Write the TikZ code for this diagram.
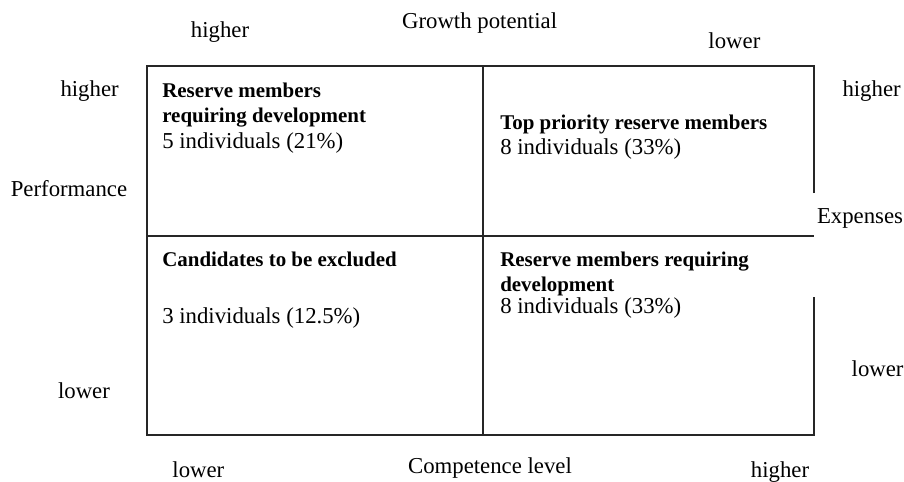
\documentclass[tikz,border=0pt]{standalone}
\usepackage{fontspec}
\setmainfont{Liberation Serif}
\usepackage{tikz}
\usetikzlibrary{positioning}
\tikzset{axlbl/.style = {font = \fontsize{16.2}{19}\selectfont, anchor = base, inner sep = 0}}
\tikzset{qtitle/.style = {font = \fontsize{14.9}{17.8}\selectfont\bfseries, anchor = north west, align = left, inner sep = 0}}
\tikzset{qcount/.style = {font = \fontsize{16.2}{19}\selectfont, anchor = base west, inner sep = 0}}
\tikzset{gridln/.style = {line width = 1pt, black!85}}

\begin{document}
\begin{tikzpicture}
    \useasboundingbox (0, 0) rectangle (22.6, 12.025);

    % matrix frame, right side left open around the Expenses label
    \draw [gridln] (20.35, 7.2) -- (20.35, 10.375) -- (3.675, 10.375)
        -- (3.675, 1.15) -- (20.35, 1.15) -- (20.35, 4.6);
    \draw [gridln] (12.075, 10.375) -- (12.075, 1.15);
    \draw [gridln] (3.675, 6.125) -- (20.35, 6.125);

    % quadrants
    \node [qtitle] (tlt) at (4.05, 9.95) {Reserve members\\requiring development};
    \node [qcount] (tlc) at (4.05, 8.325) {5 individuals (21\%)};

    \node [qtitle] (trt) at (12.5, 9.15) {Top priority reserve members};
    \node [qcount] (trc) at (12.5, 8.175) {8 individuals (33\%)};

    \node [qtitle] (blt) at (4.05, 5.725) {Candidates to be excluded};
    \node [qcount] (blc) at (4.05, 3.95) {3 individuals (12.5\%)};

    \node [qtitle] (brt) at (12.5, 5.725) {Reserve members requiring\\development};
    \node [qcount] (brc) at (12.5, 4.2) {8 individuals (33\%)};

    % top axis
    \node [axlbl] (grow) at (11.99, 11.3) {Growth potential};
    \node [axlbl] (growhi) at (5.5, 11.075) {higher};
    \node [axlbl] (growlo) at (18.36, 10.825) {lower};

    % left axis
    \node [axlbl] (perf) at (1.725, 7.125) {Performance};
    \node [axlbl] (perfhi) at (2.24, 9.6) {higher};
    \node [axlbl] (perflo) at (2.1, 2.075) {lower};

    % right axis
    \node [axlbl] (exp) at (21.5, 6.45) {Expenses};
    \node [axlbl] (exphi) at (21.79, 9.6) {higher};
    \node [axlbl] (explo) at (21.94, 2.625) {lower};

    % bottom axis
    \node [axlbl] (comp) at (12.25, 0.2) {Competence level};
    \node [axlbl] (complo) at (4.96, 0.1) {lower};
    \node [axlbl] (comphi) at (19.5, 0.1) {higher};
  \end{tikzpicture}
\end{document}
